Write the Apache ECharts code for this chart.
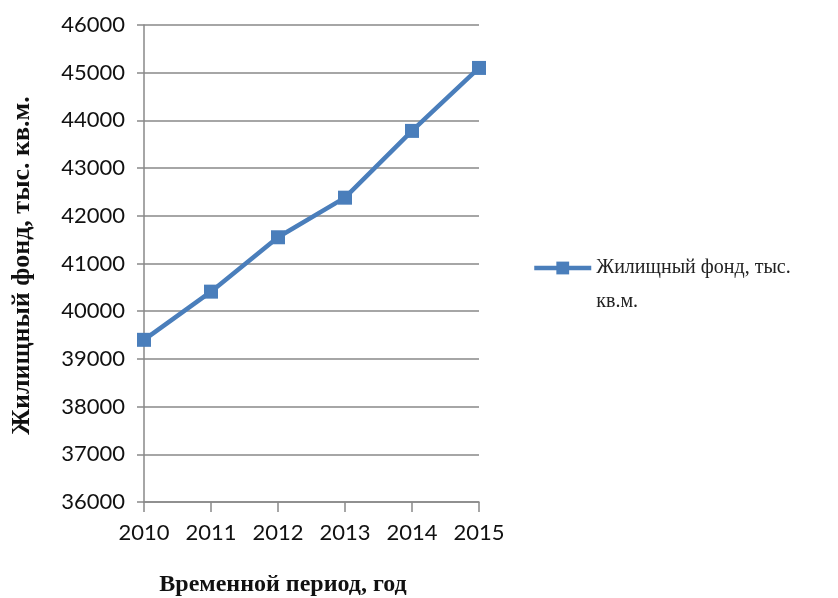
<!DOCTYPE html>
<html><head><meta charset="utf-8">
<script src="https://cdn.jsdelivr.net/npm/echarts@6/dist/echarts.min.js"></script>
<style>html,body{margin:0;padding:0;background:#fff}#c{width:838px;height:598px}</style>
</head><body><div id="c"></div>
<script>
var categories = ['2010','2011','2012','2013','2014','2015'];
var values = [39400, 40410, 41550, 42380, 43780, 45100];
var seriesName = 'Жилищный фонд, тыс. кв.м.';
var legendLines = ['', 'Жилищный фонд, тыс.', 'кв.м.'];
var xTitle = 'Временной период, год';
var yTitle = 'Жилищный фонд, тыс. кв.м.';

var chart = echarts.init(document.getElementById('c'));
chart.setOption({
  animation: false,
  grid: {left: 144, right: 359, top: 25, bottom: 96, containLabel: false, outerBoundsMode: 'none'},
  legend: {
    orient: 'vertical', left: 527, top: 212,
    itemWidth: 57, itemHeight: 16,
    lineStyle: {width: 4.5},
    formatter: function(){ return legendLines.join('\n'); },
    textStyle: {fontFamily: 'Liberation Serif', fontSize: 20, color: '#222', lineHeight: 34},
    data: [{name: seriesName}]
  },
  xAxis: {
    type: 'category', data: categories, boundaryGap: false,
    axisLine: {lineStyle: {color: '#898989', width: 1.5}},
    axisTick: {show: true, alignWithLabel: true, length: 10, lineStyle: {color: '#898989', width: 1.5}},
    axisLabel: {fontFamily: 'Lato', fontSize: 22, color: '#111', margin: 20},
    name: xTitle, nameLocation: 'middle', nameGap: 71,
    nameTextStyle: {fontFamily: 'Liberation Serif', fontWeight: 'bold', fontSize: 24, color: '#111', padding: [0, 57, 0, 0]}
  },
  yAxis: {
    type: 'value', min: 36000, max: 46000, interval: 1000,
    axisLine: {show: true, lineStyle: {color: '#898989', width: 1.5}},
    axisTick: {show: true, length: 7, lineStyle: {color: '#898989', width: 1.5}},
    splitLine: {show: true, lineStyle: {color: '#898989', width: 1.5}},
    axisLabel: {fontFamily: 'Lato', fontSize: 22, color: '#111', margin: 19, formatter: function(v){ return String(v); }},
    name: yTitle, nameLocation: 'middle', nameGap: 109, nameRotate: 90,
    nameTextStyle: {fontFamily: 'Liberation Serif', fontWeight: 'bold', fontSize: 26, color: '#111', padding: [0, 4, 0, 0]}
  },
  series: [{
    name: seriesName, type: 'line', data: values,
    symbol: 'rect', symbolSize: 14,
    lineStyle: {color: '#4a7ebb', width: 4.5},
    itemStyle: {color: '#4a7ebb'}
  }]
});
</script></body></html>
